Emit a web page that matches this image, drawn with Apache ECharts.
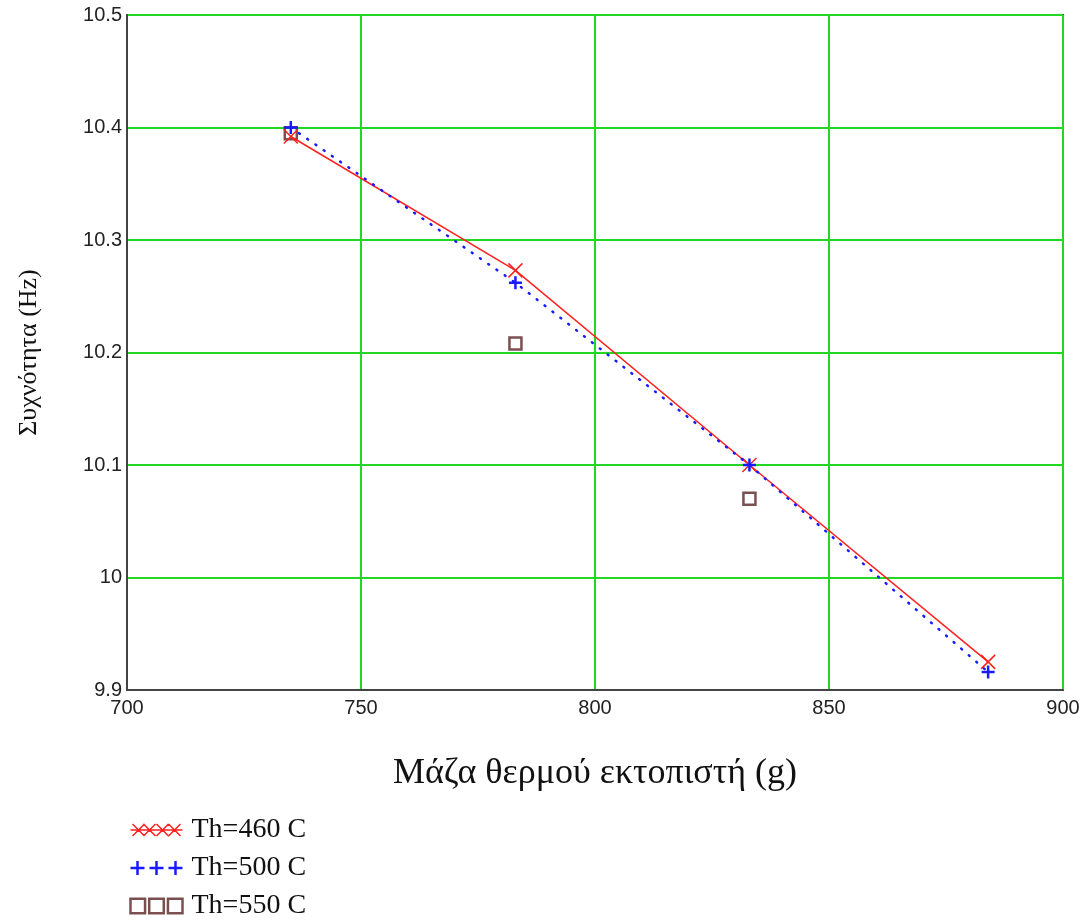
<!DOCTYPE html>
<html>
<head>
<meta charset="utf-8">
<script src="https://cdn.jsdelivr.net/npm/echarts@6/dist/echarts.min.js"></script>
<style>html,body{margin:0;padding:0;background:#fff;}#c{width:1091px;height:921px;}</style>
</head>
<body>
<div id="c"></div>
<script>
var massX = [735, 783, 833, 884];
var freq460 = [10.392, 10.273, 10.100, 9.925];
var freq500 = [10.400, 10.262, 10.100, 9.916];
var mass550 = [735, 783, 833];
var freq550 = [10.395, 10.208, 10.070];
var seriesNames = ['Th=460 C', 'Th=500 C', 'Th=550 C'];
var xTicks = [700, 750, 800, 850, 900];
var yTicks = [9.9, 10, 10.1, 10.2, 10.3, 10.4, 10.5];

function pairs(xs, ys) { return xs.map(function (x, i) { return [x, ys[i]]; }); }

var serif = '"Liberation Serif", "DejaVu Serif", serif';
var sans = '"Liberation Sans", Arial, sans-serif';
var RED = '#ff2020', BLUE = '#1a1aff', BROWN = '#5a2323', GREEN = '#22d822';

var chart = echarts.init(document.getElementById('c'), null, {renderer: 'canvas'});
chart.setOption({
  animation: false,
  backgroundColor: '#fff',
  grid: {left: 127, right: 28, top: 15, bottom: 231, show: true, borderColor: '#444', borderWidth: 2, backgroundColor: 'transparent'},
  xAxis: {
    type: 'value', min: xTicks[0], max: xTicks[xTicks.length - 1], interval: 50,
    name: 'Μάζα θερμού εκτοπιστή (g)', nameLocation: 'middle', nameGap: 66,
    nameTextStyle: {fontFamily: serif, fontSize: 36, color: '#111'},
    axisLine: {show: true, lineStyle: {color: '#444', width: 2}},
    axisTick: {show: false},
    axisLabel: {fontFamily: sans, fontSize: 20, color: '#222', margin: 8},
    splitLine: {show: true, lineStyle: {color: GREEN, width: 2}}
  },
  yAxis: {
    type: 'value', min: yTicks[0], max: yTicks[yTicks.length - 1], interval: 0.1,
    name: 'Συχνότητα (Hz)', nameLocation: 'middle', nameGap: 85,
    nameTextStyle: {fontFamily: serif, fontSize: 26, color: '#111'},
    axisLine: {show: true, lineStyle: {color: '#444', width: 2}},
    axisTick: {show: false},
    axisLabel: {fontFamily: sans, fontSize: 20, color: '#222', margin: 5,
      formatter: function (v) { return String(parseFloat(v.toFixed(1))); }},
    splitLine: {show: true, lineStyle: {color: GREEN, width: 2}}
  },
  legend: {
    orient: 'vertical', left: 128, top: 815, padding: 0, itemGap: 8, itemWidth: 52, itemHeight: 16,
    textStyle: {fontFamily: serif, fontSize: 28, lineHeight: 30, color: '#111', padding: [0, 0, 0, 4]},
    data: [
      {name: seriesNames[0], icon: 'path://M0,8H52M2,2L14,14M2,14L14,2M13,2L25,14M13,14L25,2M26,2L38,14M26,14L38,2M38,2L50,14M38,14L50,2',
        itemStyle: {color: 'none', borderColor: RED, borderWidth: 1.5}},
      {name: seriesNames[1], icon: 'path://M0,8H14M7,1V15M19,8H33M26,1V15M38,8H52M45,1V15',
        itemStyle: {color: 'none', borderColor: BLUE, borderWidth: 2.5}},
      {name: seriesNames[2], icon: 'path://M1,1H15V15H1ZM19,1H33V15H19ZM37,1H51V15H37Z',
        itemStyle: {color: 'none', borderColor: BROWN, borderWidth: 2.5}}
    ]
  },
  series: [
    {
      name: seriesNames[0], type: 'line', data: pairs(massX, freq460), z: 3,
      symbol: 'path://M0,0L10,10M0,10L10,0', symbolSize: 14,
      itemStyle: {color: 'none', borderColor: RED, borderWidth: 1.5},
      lineStyle: {color: RED, width: 1.5}
    },
    {
      name: seriesNames[1], type: 'line', data: pairs(massX, freq500), z: 4,
      symbol: 'path://M0,5H10M5,0V10', symbolSize: 13,
      itemStyle: {color: 'none', borderColor: BLUE, borderWidth: 2.5},
      lineStyle: {color: BLUE, width: 2.5, type: [1, 9], cap: 'round'}
    },
    {
      name: seriesNames[2], type: 'scatter', data: pairs(mass550, freq550), z: 2,
      symbol: 'path://M0,0H10V10H0Z', symbolSize: 12,
      itemStyle: {color: 'none', borderColor: BROWN, borderWidth: 2.5}
    }
  ]
});
</script>
</body>
</html>
